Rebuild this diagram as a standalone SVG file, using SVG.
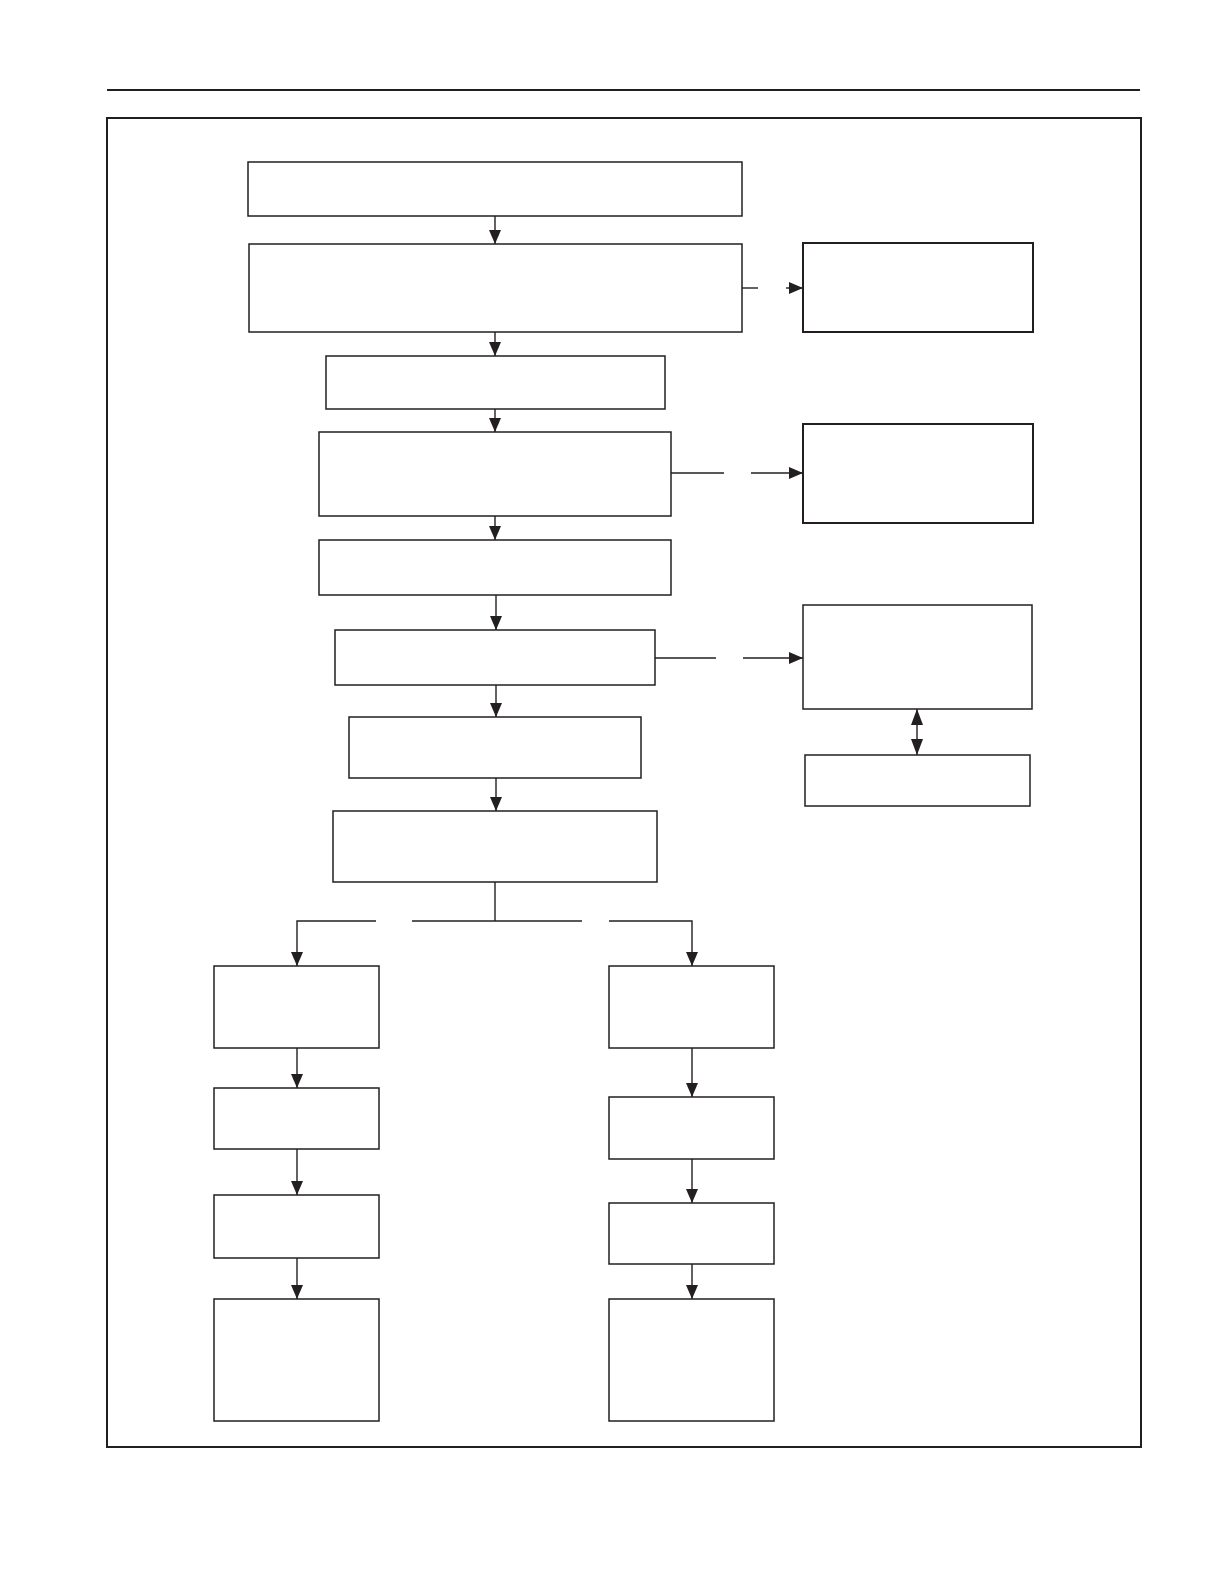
<svg xmlns="http://www.w3.org/2000/svg" width="1224" height="1584" viewBox="0 0 1224 1584">
<style>
.bx{fill:#fff;stroke:#231f20;stroke-width:1.5}
.bt{fill:#fff;stroke:#231f20;stroke-width:2}
.cn{fill:none;stroke:#231f20;stroke-width:1.4}
</style>
<defs>
<marker id="ah" markerUnits="userSpaceOnUse" markerWidth="14" markerHeight="12" viewBox="0 0 14 12" refX="14" refY="6" orient="auto-start-reverse">
<path d="M0,0 L14,6 L0,12 Z" fill="#231f20"/>
</marker>
<marker id="ab" markerUnits="userSpaceOnUse" markerWidth="16" markerHeight="12" viewBox="0 0 16 12" refX="16" refY="6" orient="auto-start-reverse">
<path d="M0,0 L16,6 L0,12 Z" fill="#231f20"/>
</marker>
</defs>
<rect width="1224" height="1584" fill="#fff"/>
<line x1="107" y1="90" x2="1140" y2="90" stroke="#231f20" stroke-width="2"/>
<rect x="107" y="118" width="1034" height="1329" fill="none" stroke="#231f20" stroke-width="2"/>
<g id="connectors">
<line class="cn" x1="495" y1="216" x2="495" y2="244" marker-end="url(#ah)"/>
<line class="cn" x1="495" y1="332" x2="495" y2="356" marker-end="url(#ah)"/>
<line class="cn" x1="495" y1="409" x2="495" y2="432" marker-end="url(#ah)"/>
<line class="cn" x1="495" y1="516" x2="495" y2="540" marker-end="url(#ah)"/>
<line class="cn" x1="496" y1="595" x2="496" y2="630" marker-end="url(#ah)"/>
<line class="cn" x1="496" y1="685" x2="496" y2="717" marker-end="url(#ah)"/>
<line class="cn" x1="496" y1="778" x2="496" y2="811" marker-end="url(#ah)"/>
<line class="cn" x1="742" y1="288" x2="758" y2="288" stroke-width="2"/>
<line class="cn" x1="786" y1="288" x2="803" y2="288" marker-end="url(#ah)"/>
<line class="cn" x1="671" y1="473" x2="724" y2="473"/>
<line class="cn" x1="751" y1="473" x2="803" y2="473" marker-end="url(#ah)"/>
<line class="cn" x1="655" y1="658" x2="716" y2="658"/>
<line class="cn" x1="743" y1="658" x2="803" y2="658" marker-end="url(#ah)"/>
<line class="cn" x1="917" y1="709" x2="917" y2="755" marker-start="url(#ab)" marker-end="url(#ab)"/>
<line class="cn" x1="495" y1="882" x2="495" y2="921"/>
<polyline class="cn" points="376,921 297,921 297,966" marker-end="url(#ah)"/>
<line class="cn" x1="412" y1="921" x2="582" y2="921"/>
<polyline class="cn" points="609,921 692,921 692,966" marker-end="url(#ah)"/>
<line class="cn" x1="297" y1="1048" x2="297" y2="1088" marker-end="url(#ah)"/>
<line class="cn" x1="297" y1="1149" x2="297" y2="1195" marker-end="url(#ah)"/>
<line class="cn" x1="297" y1="1258" x2="297" y2="1299" marker-end="url(#ah)"/>
<line class="cn" x1="692" y1="1048" x2="692" y2="1097" marker-end="url(#ah)"/>
<line class="cn" x1="692" y1="1159" x2="692" y2="1203" marker-end="url(#ah)"/>
<line class="cn" x1="692" y1="1264" x2="692" y2="1299" marker-end="url(#ah)"/>
</g>
<g id="b1"><rect class="bx" x="248" y="162" width="494" height="54"/></g>
<g id="b2"><rect class="bx" x="249" y="244" width="493" height="88"/></g>
<g id="r1"><rect class="bt" x="803" y="243" width="230" height="89"/></g>
<g id="b3"><rect class="bx" x="326" y="356" width="339" height="53"/></g>
<g id="b4"><rect class="bx" x="319" y="432" width="352" height="84"/></g>
<g id="r2"><rect class="bt" x="803" y="424" width="230" height="99"/></g>
<g id="b5"><rect class="bx" x="319" y="540" width="352" height="55"/></g>
<g id="b6"><rect class="bx" x="335" y="630" width="320" height="55"/></g>
<g id="r3"><rect class="bx" x="803" y="605" width="229" height="104"/></g>
<g id="r4"><rect class="bx" x="805" y="755" width="225" height="51"/></g>
<g id="b7"><rect class="bx" x="349" y="717" width="292" height="61"/></g>
<g id="b8"><rect class="bx" x="333" y="811" width="324" height="71"/></g>
<g id="l1"><rect class="bx" x="214" y="966" width="165" height="82"/></g>
<g id="l2"><rect class="bx" x="214" y="1088" width="165" height="61"/></g>
<g id="l3"><rect class="bx" x="214" y="1195" width="165" height="63"/></g>
<g id="l4"><rect class="bx" x="214" y="1299" width="165" height="122"/></g>
<g id="m1"><rect class="bx" x="609" y="966" width="165" height="82"/></g>
<g id="m2"><rect class="bx" x="609" y="1097" width="165" height="62"/></g>
<g id="m3"><rect class="bx" x="609" y="1203" width="165" height="61"/></g>
<g id="m4"><rect class="bx" x="609" y="1299" width="165" height="122"/></g>
</svg>
